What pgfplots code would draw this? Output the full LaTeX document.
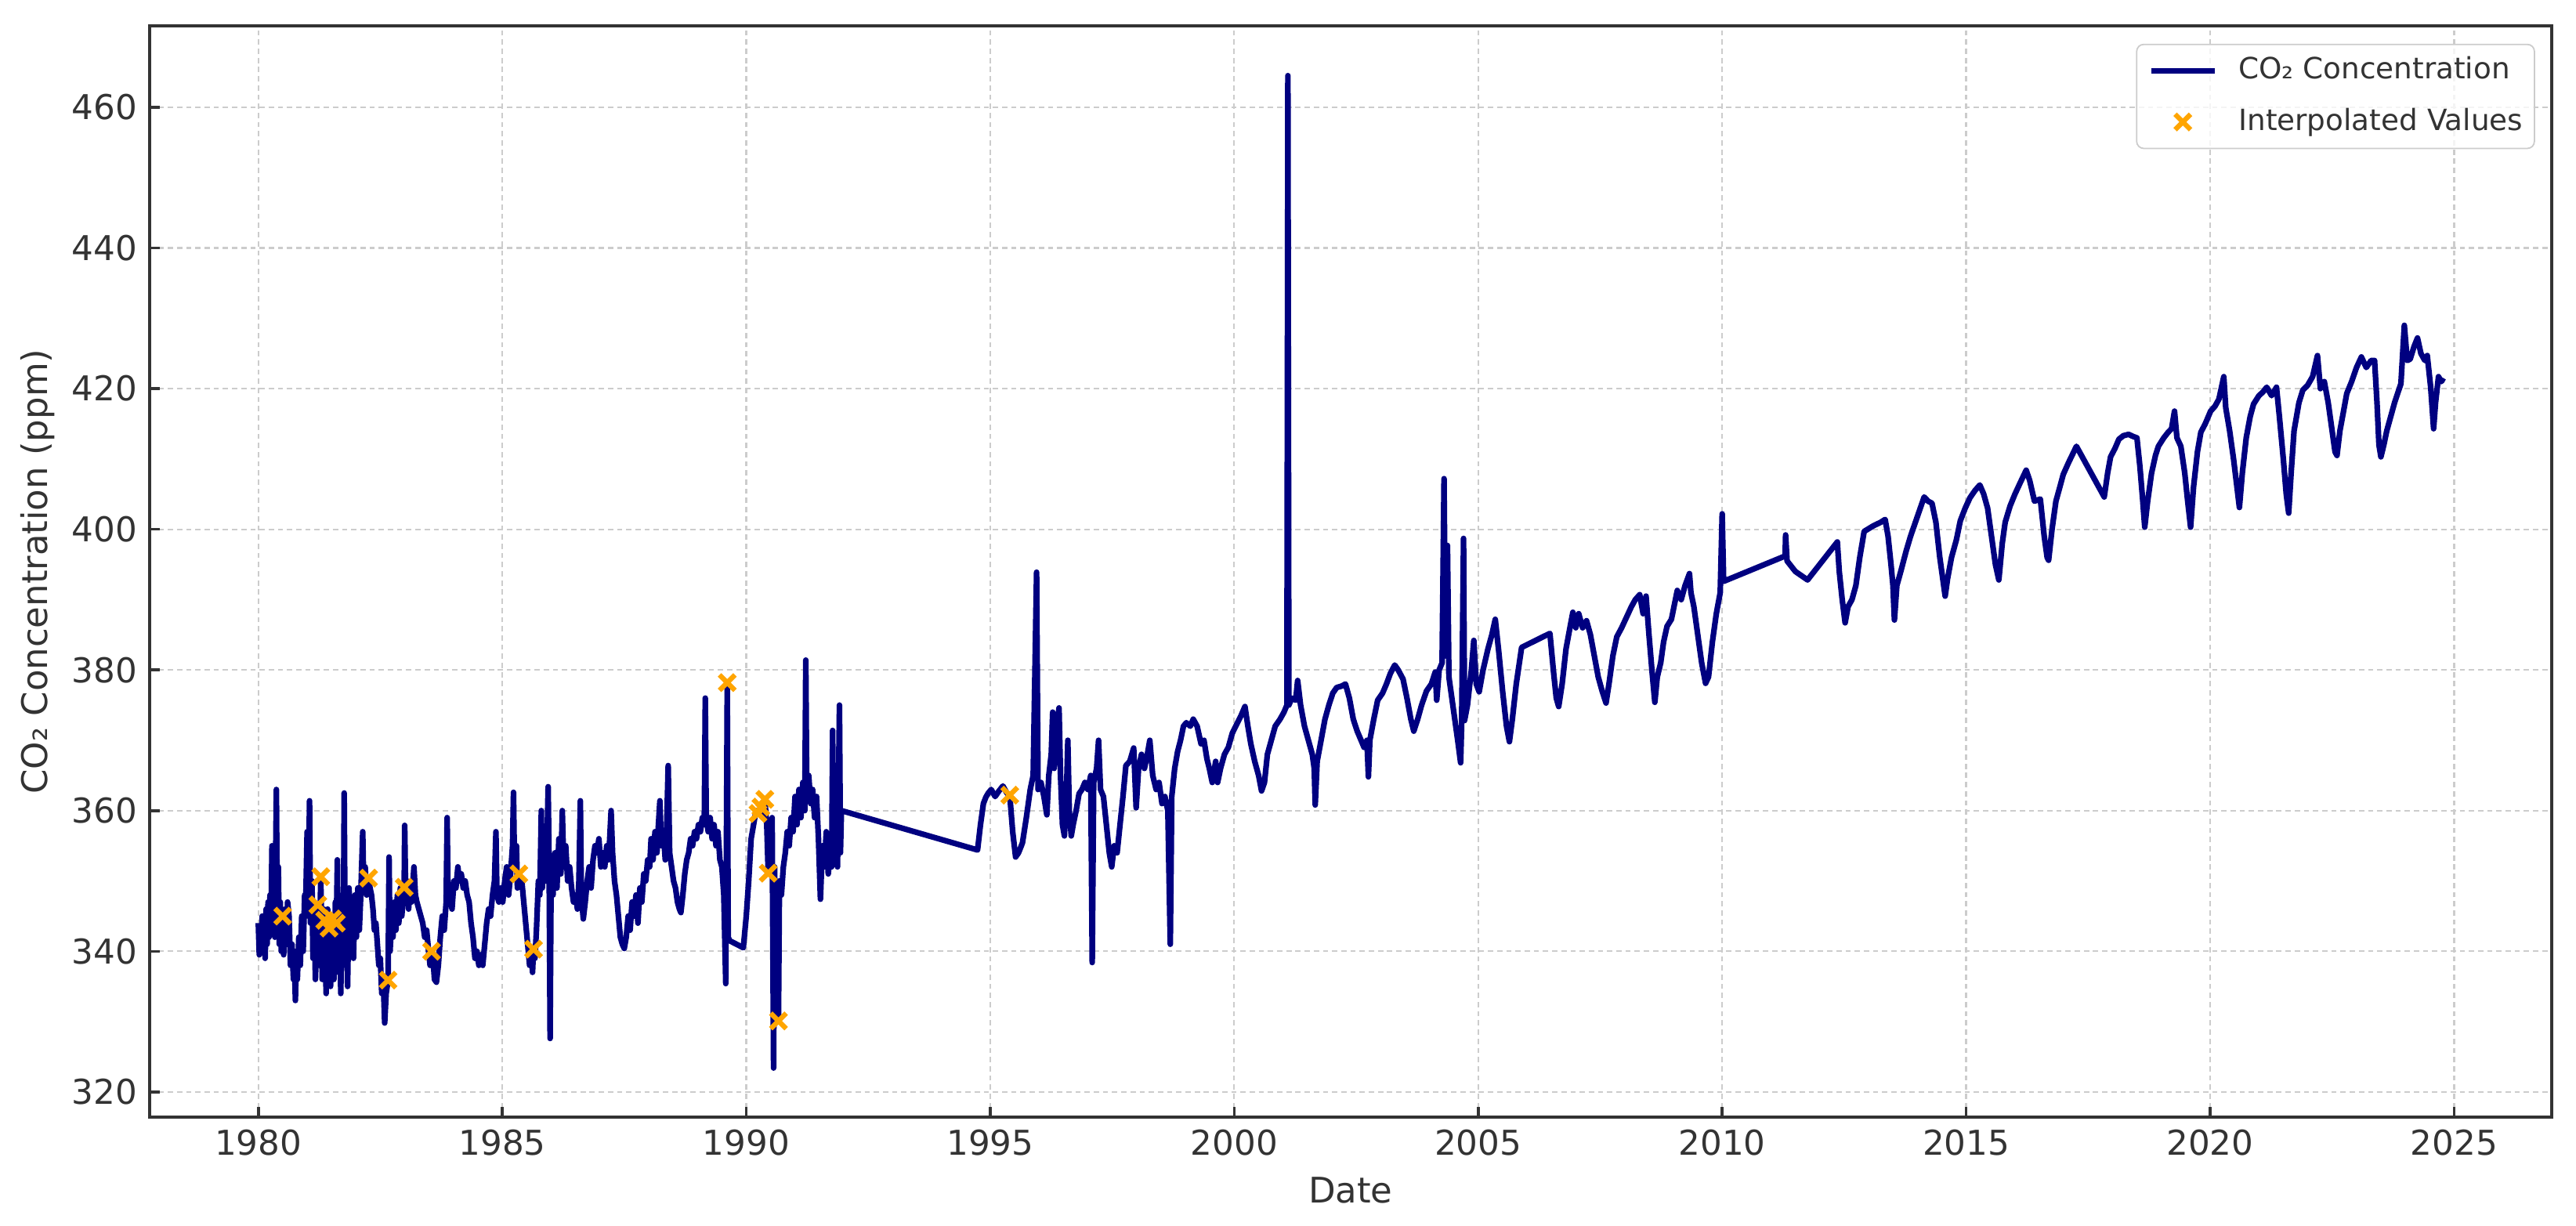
\documentclass[border=0pt]{standalone}
\usepackage{fontspec}
\setmainfont{DejaVu Sans}
\usepackage{pgfplots}
\pgfplotsset{compat=1.18}
\usepackage{pgfplotstable}
\definecolor{navyline}{HTML}{000080}
\definecolor{mkorange}{HTML}{FFA500}
\definecolor{spine}{HTML}{333333}
\definecolor{txt}{HTML}{333333}
\pgfplotsset{
  lineleg/.style={legend image code/.code={\draw[##1] (0pt,0pt) -- (18pt,0pt);}},
  markleg/.style={legend image code/.code={\draw[##1] plot coordinates {(9pt,0pt)};}},
}

\pgfplotstableread{
x y
1980.00 344
1980.02 339.5
1980.04 343
1980.06 341
1980.08 345
1980.10 340
1980.12 344
1980.14 339
1980.16 346
1980.18 341
1980.20 347
1980.22 342
1980.24 348
1980.26 344
1980.28 355
1980.30 345
1980.32 350
1980.34 342
1980.37 363
1980.39 344
1980.41 352
1980.43 341
1980.45 347
1980.47 340
1980.50 345
1980.52 339.5
1980.55 346
1980.58 341
1980.60 347
1980.63 345
1980.66 338
1980.69 341
1980.72 336
1980.74 339
1980.76 333
1980.78 340
1980.80 336
1980.83 342
1980.86 338
1980.89 345
1980.92 340
1980.95 348
1980.97 346
1981.00 357
1981.02 345
1981.05 361.4
1981.07 344
1981.10 350
1981.12 339
1981.14 347
1981.17 336
1981.20 342
1981.22 346.6
1981.25 338
1981.28 350.6
1981.31 336
1981.34 346
1981.36 344.4
1981.39 334
1981.42 346
1981.45 343.3
1981.48 335
1981.52 344.6
1981.55 336
1981.58 347
1981.60 344.0
1981.62 353
1981.64 337
1981.67 345
1981.69 334
1981.72 348
1981.74 338
1981.76 362.5
1981.78 340
1981.80 347
1981.83 335
1981.86 349
1981.89 340
1981.92 346
1981.95 339
1981.98 348
1982.01 342
1982.04 349
1982.07 343
1982.10 348
1982.14 357
1982.16 349
1982.19 352
1982.22 348
1982.26 350.4
1982.29 349
1982.32 348
1982.35 346
1982.38 343
1982.41 344
1982.44 341
1982.47 338
1982.50 339
1982.53 334
1982.56 336
1982.59 329.8
1982.62 334
1982.66 335.9
1982.68 353.4
1982.70 340
1982.73 344
1982.76 342
1982.79 347
1982.82 343
1982.85 348
1982.88 344
1982.91 349
1982.94 345
1982.99 349.1
1983.00 357.9
1983.02 348
1983.05 350
1983.08 346
1983.11 349
1983.14 347
1983.17 350
1983.19 352
1983.22 348
1983.25 347
1983.29 346
1983.33 345
1983.37 344
1983.41 342
1983.45 343
1983.49 340
1983.52 338
1983.55 340
1983.58 339
1983.61 336
1983.65 335.6
1983.69 338
1983.73 342
1983.77 345
1983.81 343
1983.85 347
1983.87 359
1983.89 347
1983.93 348
1983.97 346
1984.01 350
1984.05 349
1984.09 352
1984.12 350
1984.16 351
1984.20 349
1984.24 350
1984.28 348
1984.32 347
1984.36 344
1984.40 342
1984.44 339
1984.48 340
1984.52 338
1984.56 339.5
1984.60 338
1984.64 341
1984.68 344
1984.72 346
1984.76 345
1984.80 348
1984.84 350
1984.87 357
1984.89 348
1984.93 347
1984.97 349
1985.01 347
1985.05 350
1985.09 352
1985.13 348
1985.17 351
1985.21 355
1985.23 362.6
1985.25 352
1985.29 355
1985.31 349
1985.34 351
1985.40 350
1985.44 347
1985.48 344
1985.52 341
1985.56 338
1985.60 340
1985.62 337
1985.64 340.3
1985.67 339
1985.70 343
1985.74 350
1985.77 348
1985.80 360
1985.82 349
1985.86 355
1985.90 350
1985.94 363.4
1985.96 352
1985.98 327.6
1986.00 350
1986.04 348
1986.08 354
1986.12 349
1986.16 356
1986.20 351
1986.23 360
1986.26 352
1986.30 355
1986.34 350
1986.38 352
1986.42 349
1986.46 347
1986.50 348
1986.54 346
1986.57 350
1986.60 361.4
1986.62 348
1986.66 344.6
1986.70 347
1986.74 350
1986.78 352
1986.82 349
1986.86 353
1986.90 355
1986.94 354
1986.98 356
1987.02 352
1987.06 354
1987.10 352
1987.14 355
1987.18 353
1987.23 360
1987.26 354
1987.30 350
1987.34 348
1987.38 345
1987.42 342
1987.46 341
1987.50 340.4
1987.54 342
1987.58 345
1987.62 343
1987.66 347
1987.70 345
1987.74 348
1987.78 344
1987.82 349
1987.86 347
1987.90 351
1987.94 350
1987.98 353
1988.02 352
1988.05 356
1988.09 353
1988.13 357
1988.17 354
1988.20 358
1988.23 361.4
1988.26 355
1988.30 357
1988.34 353
1988.37 358
1988.40 366.4
1988.43 354
1988.47 352
1988.51 350
1988.55 349
1988.59 347
1988.63 346
1988.66 345.5
1988.70 348
1988.74 351
1988.78 353
1988.82 354
1988.86 356
1988.90 355
1988.94 357
1988.98 356
1989.02 358
1989.06 357
1989.10 359
1989.14 358
1989.16 376
1989.18 359
1989.22 357
1989.26 359
1989.30 356
1989.34 358
1989.38 355
1989.42 357
1989.46 353
1989.50 352
1989.54 348
1989.58 335.4
1989.61 378.2
1989.63 342
1989.66 341.5
1989.80 341
1989.94 340.5
1990.00 345
1990.05 350
1990.10 356
1990.15 358
1990.20 360
1990.24 359.6
1990.30 360.5
1990.34 359
1990.38 361.6
1990.42 358
1990.45 351.1
1990.50 355
1990.53 359
1990.56 323.4
1990.58 352
1990.62 335
1990.66 330.1
1990.68 350
1990.72 348
1990.76 352
1990.80 354
1990.84 357
1990.88 355
1990.92 359
1990.96 357
1991.00 362
1991.04 358
1991.08 363
1991.12 359
1991.16 364
1991.20 360
1991.22 381.4
1991.24 362
1991.28 365
1991.32 361
1991.36 363
1991.40 359
1991.44 362
1991.48 356
1991.52 347.4
1991.56 355
1991.60 352
1991.64 357
1991.68 351
1991.72 354
1991.75 352
1991.77 371.4
1991.79 353
1991.83 357
1991.87 352
1991.91 375
1991.93 354
1991.95 360
1994.74 354.4
1994.80 358
1994.86 361
1994.91 361.9
1994.96 362.5
1995.02 363
1995.10 362
1995.18 362.8
1995.26 363.5
1995.34 362.5
1995.40 362.2
1995.46 357
1995.52 353.4
1995.58 354
1995.66 355.4
1995.74 359
1995.82 363
1995.88 365
1995.95 393.9
1995.98 363
1996.04 364
1996.10 362
1996.16 359.4
1996.20 365
1996.25 368
1996.28 374
1996.31 366
1996.36 372
1996.41 374.6
1996.44 365
1996.48 358
1996.52 356.4
1996.56 362
1996.59 370
1996.62 360
1996.66 356.4
1996.70 358
1996.76 360
1996.82 362.4
1996.88 363
1996.94 364
1997.00 363
1997.06 365
1997.09 338.4
1997.12 364
1997.18 366
1997.22 370
1997.26 363
1997.32 362
1997.38 358
1997.44 354
1997.49 352
1997.54 355
1997.60 354
1997.66 358
1997.72 362
1997.78 366.4
1997.86 367
1997.94 368.9
1997.99 360.4
1998.04 366
1998.10 368
1998.16 366
1998.22 368
1998.27 370
1998.33 365
1998.40 363
1998.46 364
1998.52 361
1998.58 362
1998.64 360
1998.69 341
1998.72 362
1998.78 366
1998.84 368.4
1998.90 370
1998.96 372
1999.02 372.5
1999.10 372
1999.16 373
1999.24 372
1999.32 369.5
1999.38 370
1999.44 367.4
1999.49 366
1999.55 364
1999.62 367
1999.66 364
1999.72 366
1999.80 368
1999.88 369
1999.96 371
2000.06 372.4
2000.14 373.5
2000.22 374.8
2000.28 372
2000.34 369.5
2000.42 367
2000.50 365
2000.56 362.8
2000.62 364
2000.68 368
2000.76 370
2000.84 372
2000.94 373
2001.02 374
2001.08 375
2001.10 464.5
2001.12 375
2001.18 376
2001.26 375.7
2001.30 378.5
2001.36 375
2001.44 372
2001.52 370
2001.60 368
2001.64 366
2001.66 360.8
2001.70 367
2001.78 370
2001.86 373
2001.94 375
2002.02 376.7
2002.10 377.5
2002.20 377.7
2002.28 378
2002.36 376
2002.44 373
2002.52 371.3
2002.60 370
2002.66 369
2002.72 370
2002.75 364.8
2002.78 370
2002.86 373
2002.94 375.7
2003.04 376.7
2003.12 378
2003.20 379.5
2003.29 380.7
2003.36 380
2003.46 378.7
2003.54 376
2003.62 373
2003.68 371.3
2003.76 373
2003.84 375
2003.94 377
2004.04 378
2004.12 379.7
2004.15 375.7
2004.20 380
2004.26 381
2004.30 407.2
2004.33 382
2004.37 397.7
2004.40 379
2004.46 376
2004.52 373
2004.58 370
2004.64 366.8
2004.66 372
2004.70 398.7
2004.72 372.8
2004.78 375
2004.86 380
2004.91 384.2
2004.96 378
2005.02 376.9
2005.10 380
2005.20 383
2005.28 385
2005.35 387.2
2005.42 382.7
2005.50 377
2005.58 372
2005.64 369.8
2005.70 373
2005.78 378
2005.89 383.2
2006.47 385.2
2006.54 380
2006.60 376
2006.65 374.8
2006.72 378
2006.80 383
2006.88 386
2006.94 388.2
2007.00 386
2007.06 388
2007.14 386
2007.22 387
2007.30 385
2007.38 382
2007.46 379
2007.54 377
2007.62 375.3
2007.68 378
2007.76 382
2007.84 384.7
2007.94 386
2008.04 387.5
2008.14 389
2008.22 390
2008.31 390.7
2008.38 388
2008.44 390.5
2008.50 385
2008.56 380
2008.62 375.4
2008.67 379
2008.74 381
2008.80 384
2008.87 386.2
2008.96 387.2
2009.08 391.3
2009.16 390
2009.24 392
2009.33 393.7
2009.36 391
2009.42 389
2009.50 385
2009.58 381
2009.66 378.1
2009.72 379
2009.80 384
2009.88 388
2009.96 391
2010.00 402.2
2010.03 392.6
2011.29 396.2
2011.30 399.2
2011.33 395.5
2011.50 394
2011.75 392.8
2012.36 398.2
2012.40 394
2012.46 390
2012.52 386.7
2012.58 389
2012.66 390
2012.74 392
2012.82 396
2012.91 399.7
2013.10 400.5
2013.25 401
2013.34 401.4
2013.40 399
2013.46 395
2013.50 392
2013.53 387.1
2013.58 392
2013.66 394
2013.77 396.9
2013.86 399
2013.96 401
2014.06 403
2014.14 404.6
2014.22 404
2014.30 403.7
2014.38 401
2014.46 396
2014.52 393
2014.57 390.5
2014.62 393
2014.70 396
2014.80 398.5
2014.88 401.2
2014.98 403
2015.08 404.5
2015.18 405.5
2015.28 406.3
2015.36 405
2015.44 403
2015.52 399
2015.60 395
2015.67 392.8
2015.74 398
2015.80 401
2015.90 403.3
2016.00 405
2016.10 406.5
2016.23 408.4
2016.30 407
2016.40 404
2016.52 404.3
2016.60 399
2016.66 396
2016.69 395.6
2016.76 400
2016.84 404
2016.92 406
2016.99 407.8
2017.10 409.5
2017.26 411.8
2017.83 404.6
2017.90 408
2017.96 410.3
2018.05 411.5
2018.13 412.8
2018.22 413.3
2018.33 413.5
2018.42 413.2
2018.50 413
2018.56 409
2018.62 404
2018.66 400.3
2018.72 404
2018.80 408
2018.88 410.5
2018.94 411.8
2019.05 413
2019.14 413.8
2019.21 414.3
2019.27 416.8
2019.32 413
2019.40 411.8
2019.48 408
2019.54 404
2019.60 400.3
2019.66 406
2019.74 411
2019.81 413.8
2019.90 415
2020.01 416.8
2020.10 417.5
2020.18 418.5
2020.28 421.7
2020.32 417.3
2020.40 414
2020.48 410
2020.55 406
2020.60 403.1
2020.66 408
2020.74 413
2020.82 416
2020.89 417.8
2021.00 419
2021.08 419.5
2021.16 420.2
2021.26 419
2021.36 420.2
2021.42 416
2021.50 410
2021.56 405
2021.61 402.3
2021.66 408
2021.72 414
2021.82 418
2021.90 419.8
2022.00 420.5
2022.10 421.7
2022.20 424.7
2022.26 420
2022.34 421
2022.42 418
2022.50 414
2022.56 411
2022.60 410.5
2022.66 414
2022.74 417
2022.80 419.3
2022.90 421
2023.00 423
2023.10 424.5
2023.20 423
2023.30 424
2023.37 424
2023.42 418
2023.46 412
2023.50 410.3
2023.56 412
2023.62 414
2023.70 416
2023.78 418
2023.91 420.7
2023.98 429
2024.04 424
2024.10 424.2
2024.18 426
2024.25 427.2
2024.32 425
2024.40 424
2024.45 424.7
2024.52 420.2
2024.58 414.3
2024.62 418
2024.68 421.7
2024.74 421
2024.78 421.5
}\codata

\pgfplotstableread{
x y
1980.50 345.0
1981.22 346.6
1981.28 350.6
1981.36 344.4
1981.45 343.3
1981.52 344.6
1981.60 344.0
1982.26 350.4
1982.66 335.9
1982.99 349.1
1983.55 340.0
1985.34 351.0
1985.64 340.3
1989.61 378.2
1990.24 359.6
1990.30 360.5
1990.38 361.6
1990.45 351.1
1990.66 330.1
1995.40 362.2
}\interp

\begin{document}
\begin{tikzpicture}
\begin{axis}[
  scale only axis,
  width=681.3pt, height=309.6pt,
  xmin=1977.77, xmax=2027.0,
  ymin=316.4, ymax=471.6,
  xtick={1980,1985,1990,1995,2000,2005,2010,2015,2020,2025},
  xticklabels={1980,1985,1990,1995,2000,2005,2010,2015,2020,2025},
  ytick={320,340,360,380,400,420,440,460},
  yticklabels={320,340,360,380,400,420,440,460},
  xtick pos=left, ytick pos=left,
  tick align=inside,
  major tick length=2.9pt,
  tick style={spine, line width=0.8pt},
  axis line style={spine, line width=0.8pt},
  tick label style={font=\fontsize{9.7}{11}\selectfont, text=txt},
  label style={font=\fontsize{10}{12}\selectfont, text=txt},
  grid=major,
  major grid style={black!20, line width=0.5pt, dash pattern=on 1.5pt off 1.1pt},
  xlabel={Date},
  ylabel={CO₂ Concentration (ppm)},
  xlabel style={at={(axis description cs:0.5,-0.0782)}, anchor=base},
  ylabel style={at={(axis description cs:-0.0424,0.5)}, anchor=base},
  legend cell align=left,
  legend style={at={(axis description cs:1,1)}, anchor=north east,
    xshift=-4.7pt, yshift=-5.1pt,
    draw=black!20, fill=white, fill opacity=0.8, text opacity=1,
    rounded corners=2pt,
    font=\fontsize{8.3}{10}\selectfont, text=txt,
    inner xsep=3.3pt, inner ysep=3.5pt,
    row sep=6.5pt, column sep=6pt,
    nodes={inner sep=0pt, text height=6.3pt, text depth=1.7pt}},
]
\addplot[navyline, line width=1.6pt, line join=round, lineleg]
  table[x=x, y=y]{\codata};
\addlegendentry{CO₂ Concentration}
\addplot[only marks, mark=x, mark size=3.1pt, mkorange,
  mark options={line width=1.4pt}, markleg]
  table[x=x, y=y]{\interp};
\addlegendentry{Interpolated Values}
\end{axis}
\pgfresetboundingbox
\path ([shift={(-42.4pt,-30.7pt)}]current axis.south west) rectangle ([shift={(6.9pt,7.3pt)}]current axis.north east);
\end{tikzpicture}
\end{document}
